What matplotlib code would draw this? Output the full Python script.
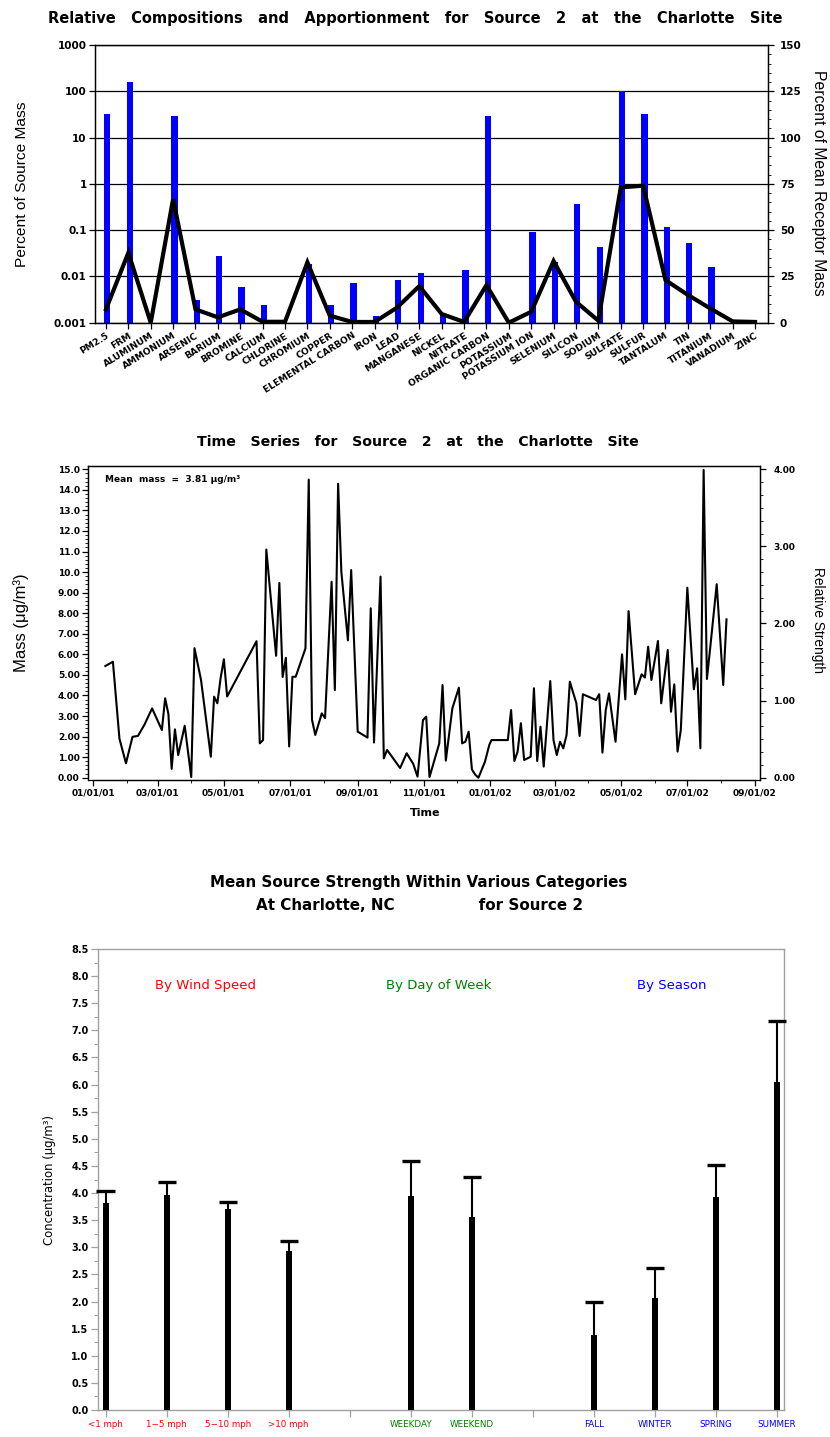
import numpy as np
import matplotlib
matplotlib.use('Agg')
import matplotlib.pyplot as plt
import matplotlib.dates as mdates
from matplotlib.ticker import FixedLocator, NullLocator
from matplotlib import font_manager
from matplotlib.font_manager import FontProperties

plt.rcParams['font.family'] = ['DejaVu Sans']

# ---------------- data ----------------
species = ['PM2.5', 'FRM', 'ALUMINUM', 'AMMONIUM', 'ARSENIC', 'BARIUM', 'BROMINE',
           'CALCIUM', 'CHLORINE', 'CHROMIUM', 'COPPER', 'ELEMENTAL CARBON', 'IRON',
           'LEAD', 'MANGANESE', 'NICKEL', 'NITRATE', 'ORGANIC CARBON', 'POTASSIUM',
           'POTASSIUM ION', 'SELENIUM', 'SILICON', 'SODIUM', 'SULFATE', 'SULFUR',
           'TANTALUM', 'TIN', 'TITANIUM', 'VANADIUM', 'ZINC']
pct_source_mass = [32, 156, 0, 29.5, 0.0031, 0.027, 0.0058, 0.0024, 0, 0.019,
                   0.0024, 0.0073, 0.0014, 0.0084, 0.0117, 0.0015, 0.0138, 29.5, 0, 0.093,
                   0.02, 0.36, 0.044, 100, 31.7, 0.115, 0.052, 0.016, 0, 0]
pct_receptor_mass = [7.2, 37.8, 0, 66.8, 7.2, 2.9, 7.2, 0.5, 0.5, 32.6,
                     3.8, 0.4, 0.4, 8.1, 19.8, 4.7, 0.4, 20.3, 0, 5.9,
                     33.3, 11.3, 1.1, 73.1, 74.0, 23.0, 15.0, 7.7, 0.7, 0.4]

ts_days = [11, 18, 24, 30, 36, 41, 47, 54, 63, 66,
           69, 72, 75, 78, 84, 90, 93, 99, 108, 111,
           114, 117, 120, 123, 150, 153, 156, 159, 168, 171,
           174, 177, 180, 183, 186, 195, 198, 201, 204, 210,
           213, 219, 222, 225, 228, 234, 237, 243, 252, 255,
           258, 264, 267, 270, 282, 288, 294, 298, 303, 306,
           309, 318, 321, 324, 330, 336, 339, 342, 345, 348,
           351, 354, 360, 364, 366, 381, 384, 387, 390, 393,
           396, 402, 405, 408, 411, 414, 420, 423, 426, 429,
           432, 435, 438, 444, 447, 450, 462, 465, 468, 471,
           474, 480, 483, 486, 489, 492, 498, 504, 507, 510,
           513, 519, 522, 528, 531, 534, 537, 540, 546, 552,
           555, 558, 561, 564, 567, 573, 579, 582]
ts_mass = [5.43, 5.64, 1.9, 0.70, 1.99, 2.03, 2.58, 3.37, 2.32, 3.86,
           3.1, 0.43, 2.35, 1.10, 2.53, 0.03, 6.3, 4.75, 1.02, 3.94,
           3.62, 4.85, 5.76, 3.95, 6.64, 1.67, 1.83, 11.1, 5.93, 9.47,
           4.9, 5.83, 1.52, 4.91, 4.91, 6.29, 14.5, 2.82, 2.08, 3.13,
           2.9, 9.53, 4.26, 14.3, 10.0, 6.68, 10.1, 2.24, 1.95, 8.24,
           1.71, 9.78, 0.94, 1.35, 0.47, 1.19, 0.68, 0.05, 2.8, 2.97,
           0.03, 1.67, 4.51, 0.83, 3.37, 4.38, 1.67, 1.75, 2.24, 0.40,
           0.15, 0.0, 0.78, 1.6, 1.83, 1.83, 3.29, 0.81, 1.27, 2.65,
           0.86, 1.02, 4.35, 0.81, 2.48, 0.54, 4.70, 1.83, 1.10, 1.75,
           1.43, 2.08, 4.67, 3.62, 2.03, 4.06, 3.78, 4.06, 1.22, 3.29,
           4.1, 1.75, 3.86, 6.0, 3.81, 8.1, 4.06, 5.03, 4.87, 6.37,
           4.75, 6.65, 3.62, 6.21, 3.21, 4.54, 1.27, 2.32, 9.24, 4.3,
           5.32, 1.43, 14.97, 4.8, 6.3, 9.41, 4.51, 7.7]
mean_mass = 3.81
rel_strength_max = 4.0      # right axis top, aligned with 15.0 on left

cat_labels = ['<1 mph', '1\u22125 mph', '5\u221210 mph', '>10 mph', '',
              'WEEKDAY', 'WEEKEND', '', 'FALL', 'WINTER', 'SPRING', 'SUMMER']
cat_colors = ['red', 'red', 'red', 'red', 'black', '#008000', '#008000', 'black',
              'blue', 'blue', 'blue', 'blue']
cat_mean = [3.82, 3.96, 3.70, 2.94, np.nan, 3.95, 3.55, np.nan, 1.38, 2.07, 3.93, 6.04]
cat_upper = [4.04, 4.20, 3.84, 3.12, np.nan, 4.59, 4.29, np.nan, 1.99, 2.62, 4.51, 7.17]
group_titles = ['By Wind Speed', 'By Day of Week', 'By Season']
group_colors = ['red', '#008000', 'blue']

# ---------------- layout helpers ----------------
W, H = 830, 1437
fig = plt.figure(figsize=(W / 100, H / 100), dpi=100)

# axis titles: a plain sans face, sized a bit larger than a narrow face would need
NARROW = FontProperties(family=['Liberation Sans', 'DejaVu Sans'])
STRETCH = 1.2


def rect(l, t, r, b):
    return [l / W, 1 - b / H, (r - l) / W, (b - t) / H]


def fy(py):
    return 1 - py / H


def fx(px):
    return px / W


fit_list = []   # (text, target length in px)

# ================= Chart 1 =================
ax1 = fig.add_axes(rect(95, 45, 768, 322.7))
x = np.arange(len(species))
vals = np.array(pct_source_mass, dtype=float)
m = vals > 0
ax1.set_yscale('log')
ax1.set_ylim(1e-3, 1e3)
ax1.set_xlim(-0.49, len(species) - 1 + 0.58)
ax1.set_axisbelow(True)
ax1.yaxis.grid(True, which='major', color='black', lw=0.9)
ax1.bar(x[m] + 0.06, vals[m] - 1e-3, bottom=1e-3, width=0.28, color='#0000ff', zorder=2)
decades = [1e-3, 1e-2, 1e-1, 1, 10, 100, 1000]
ax1.yaxis.set_major_locator(FixedLocator(decades))
ax1.yaxis.set_minor_locator(NullLocator())
ax1.set_yticks(decades, ['0.001', '0.01', '0.1', '1', '10', '100', '1000'],
               fontsize=7.5, fontweight='bold')
ax1.set_xticks(x, species, rotation=32, ha='right', rotation_mode='anchor',
               fontsize=6.6, fontweight='bold')
ax1.tick_params(axis='both', direction='out', length=4, width=0.9, pad=2)
for s in ax1.spines.values():
    s.set_linewidth(0.9)

ax1r = ax1.twinx()
ax1r.set_ylim(0, 150)
ax1r.plot(x, pct_receptor_mass, color='black', lw=3.0, solid_joinstyle='miter', zorder=3)
ax1r.set_yticks(np.arange(0, 151, 25), [str(v) for v in range(0, 151, 25)],
                fontsize=7.5, fontweight='bold')
ax1r.yaxis.set_minor_locator(FixedLocator(np.arange(0, 151, 5)))
ax1r.tick_params(axis='y', which='major', direction='out', length=4, width=0.9, pad=4.5)
ax1r.tick_params(axis='y', which='minor', direction='out', length=2.2, width=0.6)
for s in ax1r.spines.values():
    s.set_linewidth(0.9)

t = fig.text(fx(415), fy(18),
             'Relative   Compositions   and   Apportionment   for   Source   2   at   the   Charlotte   Site',
             ha='center', va='center', fontsize=10, fontweight='bold')
fit_list.append((t, 730))
t = fig.text(fx(22), fy(184), 'Percent of Source Mass', rotation=90, ha='center', va='center',
             fontproperties=NARROW, fontsize=12)
fit_list.append((t, 138 * STRETCH))
t = fig.text(fx(818), fy(182.5), 'Percent of Mean Receptor Mass', rotation=270, ha='center',
             va='center', fontproperties=NARROW, fontsize=12)
fit_list.append((t, 188 * STRETCH))

# ================= Chart 2 =================
ax2 = fig.add_axes(rect(88, 465.7, 760, 780))
base = mdates.date2num(np.datetime64('2001-01-01'))
xs = base + np.array(ts_days, dtype=float)
ax2.plot(xs, ts_mass, color='black', lw=1.5)
ytop = 15.175
ybot = -0.112
ax2.set_ylim(ybot, ytop)
ax2.set_xlim(base - 4.9, base + 612.8)
major_m = np.arange(np.datetime64('2001-01'), np.datetime64('2002-10'), 2).astype('datetime64[D]')
minor_m = np.arange(np.datetime64('2001-01'), np.datetime64('2002-10'), 1).astype('datetime64[D]')
ax2.set_xticks(mdates.date2num(major_m),
               [d.astype(object).strftime('%m/%d/%y') for d in major_m],
               fontsize=6.5, fontweight='bold')
ax2.xaxis.set_minor_locator(FixedLocator(mdates.date2num(minor_m)))
yt = np.arange(0, 16, 1)
ax2.set_yticks(yt, ['%.1f' % v if v >= 10 else '%.2f' % v for v in yt],
               fontsize=6.5, fontweight='bold')
ax2.yaxis.set_minor_locator(FixedLocator(np.arange(0, 15.01, 0.2)))
ax2.tick_params(axis='both', which='major', direction='out', length=4, width=0.9, pad=2)
ax2.tick_params(axis='both', which='minor', direction='out', length=2, width=0.6)
ax2.spines['bottom'].set_bounds(base, mdates.date2num(np.datetime64('2002-09-01')))
ax2.spines['left'].set_bounds(0, ytop)
for s in ax2.spines.values():
    s.set_linewidth(0.9)

ax2r = ax2.twinx()
ax2r.set_ylim(ybot * rel_strength_max / 15.0, ytop * rel_strength_max / 15.0)
rt = np.arange(0, 5, 1)
ax2r.set_yticks(rt, ['%.2f' % v for v in rt], fontsize=6.5, fontweight='bold')
ax2r.yaxis.set_minor_locator(FixedLocator(np.arange(0, 4.001, 1 / 6)))
ax2r.tick_params(axis='y', which='major', direction='out', length=4, width=0.9, pad=5.5)
ax2r.tick_params(axis='y', which='minor', direction='out', length=2, width=0.6)
for s in ax2r.spines.values():
    s.set_linewidth(0.9)

fig.text(fx(105), fy(480), 'Mean  mass  =  %.2f \u03bcg/m\u00b3' % mean_mass,
         ha='left', va='center', fontsize=6.5, fontweight='bold')
t = fig.text(fx(418), fy(442), 'Time   Series   for   Source   2   at   the   Charlotte   Site',
             ha='center', va='center', fontsize=10, fontweight='bold')
fit_list.append((t, 443))
fig.text(fx(425), fy(813), 'Time', ha='center', va='center', fontsize=8, fontweight='bold')
t = fig.text(fx(21), fy(623), 'Mass (\u03bcg/m\u00b3)', rotation=90, ha='center', va='center',
             fontproperties=NARROW, fontsize=12)
fit_list.append((t, 82 * STRETCH))
t = fig.text(fx(818), fy(620), 'Relative Strength', rotation=270, ha='center', va='center',
             fontproperties=NARROW, fontsize=11)
fit_list.append((t, 88 * STRETCH))

# ================= Chart 3 =================
ax3 = fig.add_axes(rect(98.3, 949, 784.3, 1410))
pos = np.arange(len(cat_labels))
means = np.array(cat_mean, dtype=float)
upper = np.array(cat_upper, dtype=float)
ok = ~np.isnan(means)
ax3.set_xlim(-0.12, len(cat_labels) - 1 + 0.12)
ax3.set_ylim(0, 8.5)
ax3.bar(pos[ok], means[ok], width=0.1, color='black', zorder=3)
ax3.vlines(pos[ok], means[ok], upper[ok], color='black', lw=1.5, zorder=3)
ax3.hlines(upper[ok], pos[ok] - 0.15, pos[ok] + 0.15, color='black', lw=2.4, zorder=4,
           clip_on=False)
ax3.set_xticks(pos, cat_labels, fontsize=6.3)
for lbl, c in zip(ax3.get_xticklabels(), cat_colors):
    lbl.set_color(c)
yt3 = np.arange(0, 8.51, 0.5)
ax3.set_yticks(yt3, ['%.1f' % v for v in yt3], fontsize=7, fontweight='bold')
ax3.yaxis.set_minor_locator(FixedLocator(np.arange(0, 8.51, 0.25)))
ax3.tick_params(axis='both', which='major', direction='out', length=5, width=0.9,
                color='#a0a0a0', pad=2)
ax3.tick_params(axis='y', which='minor', direction='out', length=3, width=0.7, color='#a0a0a0')
for s in ax3.spines.values():
    s.set_color('#a0a0a0')
    s.set_linewidth(1.0)
for gx, title, gc in zip([1.63, 5.45, 9.28], group_titles, group_colors):
    ax3.text(gx, 7.82, title, color=gc, ha='center', va='center', fontsize=9.5)

title3a = fig.text(fx(419), fy(882), 'Mean Source Strength Within Various Categories',
                   ha='center', va='center', fontsize=10.5, fontweight='bold')
fit_list.append((title3a, 422))
title3b = fig.text(fx(419), fy(906), 'At Charlotte, NC' + ' ' * 16 + 'for Source 2',
                   ha='center', va='center', fontsize=10.5, fontweight='bold')
t = fig.text(fx(50), fy(1180), 'Concentration (\u03bcg/m\u00b3)', rotation=90, ha='center',
             va='center', fontsize=7.5)
fit_list.append((t, 130))

# scale selected texts so that their lengths match the reference layout
fig.canvas.draw()
renderer = fig.canvas.get_renderer()
for txt, target in fit_list:
    bb = txt.get_window_extent(renderer)
    length = max(bb.width, bb.height)
    if length > 0:
        txt.set_fontsize(txt.get_fontsize() * target / length)
title3b.set_fontsize(title3a.get_fontsize())

fig.savefig('out.png', dpi=100)
